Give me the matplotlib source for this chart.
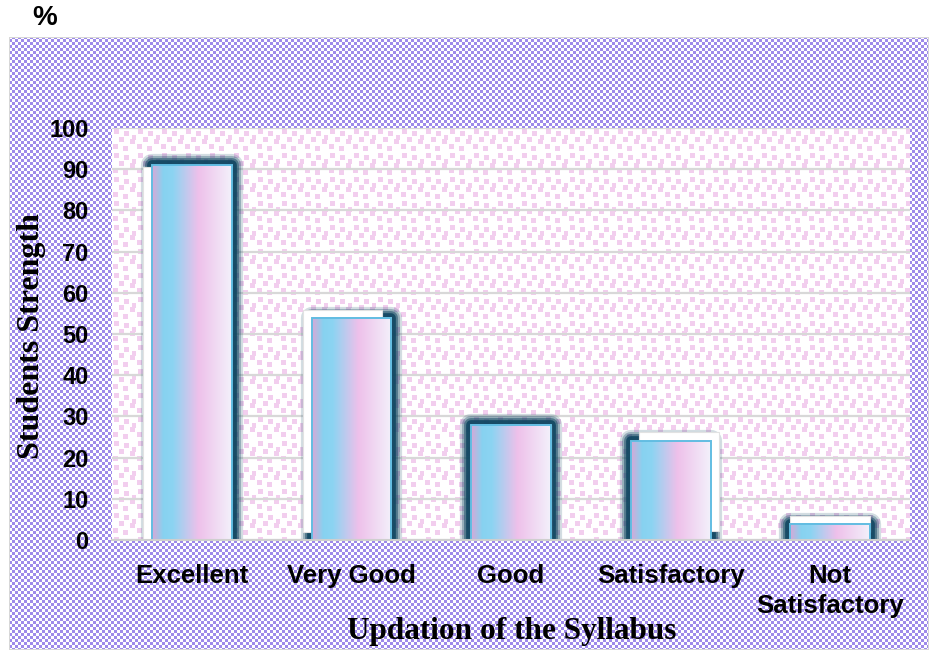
import numpy as np
import matplotlib
matplotlib.use("Agg")
import matplotlib.pyplot as plt
from matplotlib.patches import Rectangle
from matplotlib.colors import LinearSegmentedColormap
import matplotlib.transforms as mtransforms

# ---- data ----
categories = ["Excellent", "Very Good", "Good", "Satisfactory", "Not\nSatisfactory"]
values = [91, 54, 28, 24, 4]
y_ticks = [0, 10, 20, 30, 40, 50, 60, 70, 80, 90, 100]
x_title = "Updation of the Syllabus"
y_title = "Students Strength"
unit_label = "%"

# ---- style ----
W, H, DPI = 930, 654, 100
plate_offsets = [(-9, -2), (-9, 8), (0, 0), (8, 9), (0, 8)]  # px offsets of white plates
bar_width = 0.5

fig = plt.figure(figsize=(W / DPI, H / DPI), dpi=DPI)

# background image with patterns (pixel aligned)
img = np.ones((H, W, 3))
yy, xx = np.mgrid[0:H, 0:W]
# outer frame
fx0, fx1, fy0, fy1 = 9, 929, 37, 650
purple = np.array([158, 138, 234]) / 255
checker = (((xx // 3) + (yy // 3)) % 2 == 0)
frame = (xx >= fx0) & (xx < fx1) & (yy >= fy0) & (yy < fy1)
img[frame & checker] = purple
# frame border
border_col = np.array([215, 215, 215]) / 255
img[fy0:fy1, fx0] = border_col
img[fy0:fy1, fx1 - 1] = border_col
img[fy0, fx0:fx1] = border_col
img[fy1 - 1, fx0:fx1] = border_col
# inner plot area
ax0, ax1, ay0, ay1 = 112, 910, 128, 540
inner = (xx >= ax0) & (xx < ax1) & (yy >= ay0) & (yy < ay1)
img[inner] = 1.0
pink = np.array([242, 206, 238]) / 255
tile = np.zeros((24, 24), dtype=bool)
for (r, c) in [(1, 2), (3, 12), (9, 7), (11, 18), (16, 1), (18, 11), (7, 20)]:
    tile[r:r + 5, c:c + 5] = True
tmask = tile[(yy - ay0) % 24, (xx - ax0) % 24]
img[inner & tmask] = pink
fig.figimage(img, xo=0, yo=0, origin="upper", zorder=-1)

ax = fig.add_axes([ax0 / W, 1 - ay1 / H, (ax1 - ax0) / W, (ay1 - ay0) / H])
ax.set_facecolor("none")
ax.set_xlim(-0.5, len(categories) - 0.5)
ax.set_ylim(0, 100)

ax.set_yticks(y_ticks)
ax.yaxis.grid(True, color="#d8d8d8", linewidth=1.6, zorder=1)
ax.set_axisbelow(True)
for s in ["top", "right", "left"]:
    ax.spines[s].set_visible(False)
ax.spines["bottom"].set_color("#cfcfcf")
ax.spines["bottom"].set_linewidth(1.5)
ax.spines["bottom"].set_zorder(6)
ax.tick_params(axis="both", length=0)
ax.tick_params(axis="y", pad=17, labelsize=17)
ax.tick_params(axis="x", pad=17, labelsize=18.5)
ax.set_xticks(range(len(categories)))
ax.set_xticklabels(categories, linespacing=1.35)
for lab in ax.get_xticklabels() + ax.get_yticklabels():
    lab.set_fontfamily("Liberation Sans")
    lab.set_fontweight("bold")

# gradient colormap for bars
stops = [(0.0, (215/255, 168/255, 215/255)),
         (0.14, (135/255, 210/255, 240/255)),
         (0.26, (140/255, 212/255, 242/255)),
         (0.58, (238/255, 192/255, 234/255)),
         (1.0, (243/255, 241/255, 251/255))]
cmap = LinearSegmentedColormap.from_list("bargrad", stops)
grad = np.linspace(0, 1, 256).reshape(1, -1)

glow_col = "#0e4560"
for i, v in enumerate(values):
    x0 = i - bar_width / 2
    # glow
    for lw, a in [(16, 0.18), (13, 0.3), (10, 0.5), (7, 0.85)]:
        ax.add_patch(Rectangle((x0, 0), bar_width, v, fill=False, edgecolor=glow_col,
                               linewidth=lw, alpha=a, joinstyle="round", zorder=2))
    # white plate
    dx, dy = plate_offsets[i]
    tr = mtransforms.offset_copy(ax.transData, fig=fig, x=dx, y=dy, units="dots")
    ax.add_patch(Rectangle((x0, 0), bar_width, v, facecolor="white", edgecolor="#e2e2e2",
                           linewidth=0.8, transform=tr, zorder=3))
    # gradient bar
    ax.imshow(grad, cmap=cmap, aspect="auto", extent=[x0, x0 + bar_width, 0, v],
              interpolation="bilinear", zorder=4)
    ax.add_patch(Rectangle((x0, 0), bar_width, v, fill=False, edgecolor="#62bde2",
                           linewidth=1.4, zorder=5))

ax.set_xlim(-0.5, len(categories) - 0.5)
ax.set_ylim(0, 100)

# titles
fig.text(512 / W, 1 - 632 / H, x_title, ha="center", va="center",
         fontfamily="Liberation Serif", fontweight="bold", fontsize=22.5)
fig.text(32 / W, 1 - 336 / H, y_title, ha="center", va="center", rotation=90,
         fontfamily="Liberation Serif", fontweight="bold", fontsize=23)
fig.text(45 / W, 1 - 18 / H, unit_label, ha="center", va="center",
         fontfamily="Liberation Sans", fontweight="bold", fontsize=20)

fig.savefig("out.png", dpi=DPI)
